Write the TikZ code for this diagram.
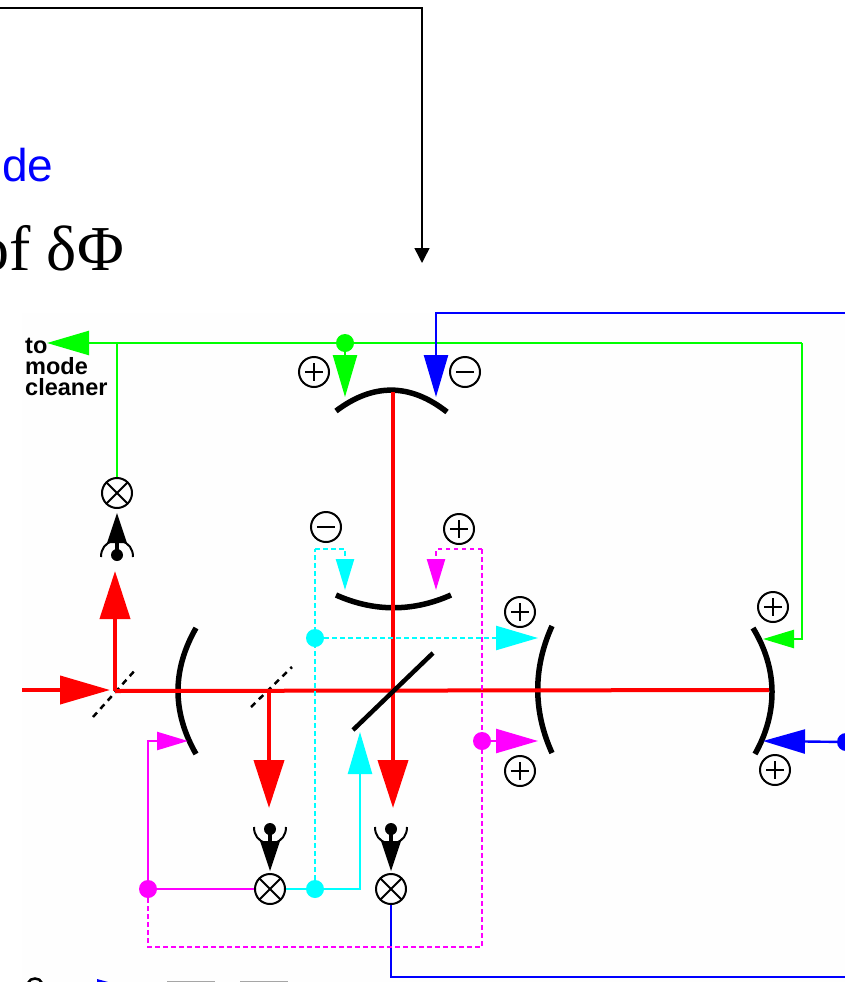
\documentclass[tikz,border=0pt]{standalone}
\usepackage{fontspec}
\setmainfont{Liberation Sans}
\newfontfamily\serfont{Liberation Serif}
\usetikzlibrary{arrows.meta}
\definecolor{puregreen}{RGB}{0,255,0}
\definecolor{purecyan}{RGB}{0,255,255}
\definecolor{puremagenta}{RGB}{255,0,255}
\definecolor{panelgray}{RGB}{254,254,254}
\tikzset{
	beam/.style = {red, line width = 4pt},
	mirror/.style = {black, line width = 5.5pt},
	sig/.style = {line width = 2.4pt},
	dsig/.style = {line width = 2.4pt, dash pattern = on 4.5pt off 3.5pt},
	bighead/.style = {-{Triangle[length = 48pt, width = 30pt]}},
	midhead/.style = {-{Triangle[length = 42pt, width = 24pt]}},
	smallhead/.style = {-{Triangle[length = 31pt, width = 18pt]}},
	dot/.style = {circle, fill, inner sep = 0pt, minimum size = 18pt},
	sign/.style = {circle, draw, line width = 2pt, inner sep = 0pt, minimum size = 30pt},
	plus/.style = {sign, path picture = {
		\draw[line width = 1.8pt] (path picture bounding box.center) +(-9,0) -- +(9,0);
		\draw[line width = 1.8pt] (path picture bounding box.center) +(0,-9) -- +(0,9);}},
	minus/.style = {sign, path picture = {
		\draw[line width = 1.8pt] (path picture bounding box.center) +(-9,0) -- +(9,0);}},
	mixer/.style = {sign, path picture = {
		\draw[line width = 2pt] (path picture bounding box.south west) -- (path picture bounding box.north east);
		\draw[line width = 2pt] (path picture bounding box.north west) -- (path picture bounding box.south east);}},
	detector/.pic = {
		\fill (0,0) circle (6);
		\draw[line width = 3.5pt] (0,0) -- (0,14);
		\fill (-10,12) -- (10,12) -- (0,42) -- cycle;
		\draw[line width = 2pt] (-16,-2) .. controls (-16,6) and (-12,12) .. (-4,14);
		\draw[line width = 2pt] (16,-2) .. controls (16,6) and (12,12) .. (4,14);
	}
}
\begin{document}
\begin{tikzpicture}[x=1pt, y=-1pt]
	\useasboundingbox (0,0) rectangle (845,982);
	\fill[panelgray] (22,313) rectangle (845,982);

	\coordinate (lineA) at (0,8);
	\coordinate (tipA) at (422,263);
	\draw[line width = 1.5pt, -{Triangle[length = 15pt, width = 15pt]}] (lineA) -| (tipA);
	\node[anchor = base west, blue, inner sep = 0pt, font = \fontsize{46}{46}\selectfont] (modeword) at (2,181) {de};
	\node[anchor = base east, font = \serfont\fontsize{64}{64}\selectfont, inner sep = 0pt] (phiword) at (124,270) {of δΦ};
	\node[anchor = north west, align = left, inner sep = 0pt, font = \bfseries\fontsize{23.5}{21}\selectfont] (cleaner) at (25,338) {to\\mode\\cleaner};

	\draw[mirror] (196,628) .. controls (172,670) and (172,712) .. (196,754);
	\draw[mirror] (552,626) .. controls (533,668) and (533,711) .. (552,753);
	\draw[mirror] (753,628) .. controls (778,669) and (778,713) .. (755,754);
	\draw[mirror] (336,411) .. controls (373,383) and (410,383) .. (447,412);
	\draw[mirror] (336,595) .. controls (374,612) and (413,612) .. (451,595);

	\draw[black, line width = 2.5pt, dash pattern = on 6pt off 5pt] (93,717) -- (137,668);
	\draw[black, line width = 2.5pt, dash pattern = on 6pt off 5pt] (251,707) -- (292,667);

	\draw[beam] (115,691) -- (769,690);
	\draw[beam, -{Triangle[length = 50pt, width = 28pt]}] (22,690) -- (110,690);
	\draw[beam, -{Triangle[length = 48pt, width = 30pt]}] (115,691) -- (115,571);
	\draw[beam, bighead] (269,691) -- (269,808);
	\draw[beam, bighead] (393,392) -- (393,808);
	\draw[black, line width = 4.5pt] (353,730) -- (433,653);

	\node[mixer] (mixA) at (117,493) {};
	\node[mixer] (mixB) at (270,889) {};
	\node[mixer] (mixC) at (391,889) {};
	\pic[yscale = -1] at (117,555) {detector};
	\pic at (270,829) {detector};
	\pic at (391,829) {detector};

	\node[plus] (signA) at (314,372) {};
	\node[minus] (signB) at (465,372) {};
	\node[minus] (signC) at (326,527) {};
	\node[plus] (signD) at (459,529) {};
	\node[plus] (signE) at (520,612) {};
	\node[plus] (signF) at (520,771) {};
	\node[plus] (signG) at (773,607) {};
	\node[plus] (signH) at (775,770) {};

	\coordinate (tipM) at (47,343);
	\coordinate (turnG) at (802,343);
	\coordinate (joinG) at (117,343);
	\coordinate (tipG) at (763,639);
	\coordinate (tipH) at (345,397);
	\node[dot, puregreen] (dotG) at (345,343) {};
	\draw[sig, puregreen, midhead] (turnG) -- (tipM);
	\draw[sig, puregreen] (mixA) -- (joinG);
	\draw[sig, puregreen, smallhead] (turnG) |- (tipG);
	\draw[sig, puregreen, midhead] (dotG) -- (tipH);

	\coordinate (startB) at (845,313);
	\coordinate (tipB) at (436,397);
	\coordinate (tipI) at (763,741);
	\coordinate (endB) at (845,977);
	\node[dot, blue] (dotB) at (846,742) {};
	\draw[sig, blue, midhead] (startB) -| (tipB);
	\draw[sig, blue, midhead] (dotB) -- (tipI);
	\draw[sig, blue] (mixC) |- (endB);

	\coordinate (cornC) at (315,549);
	\coordinate (tipC) at (345,590);
	\coordinate (tipD) at (538,638);
	\coordinate (tipE) at (360,732);
	\node[dot, purecyan] (dotC) at (315,638) {};
	\node[dot, purecyan] (dotD) at (315,889) {};
	\draw[sig, purecyan, midhead] (mixB) -| (tipE);
	\draw[dsig, purecyan] (dotD) -- (cornC);
	\draw[dsig, purecyan, smallhead] (cornC) -| (tipC);
	\draw[dsig, purecyan, midhead] (dotC) -- (tipD);

	\coordinate (cornE) at (148,947);
	\coordinate (cornF) at (482,947);
	\coordinate (cornH) at (482,549);
	\coordinate (tipF) at (436,590);
	\coordinate (tipJ) at (538,741);
	\coordinate (tipK) at (188,741);
	\node[dot, puremagenta] (dotE) at (148,889) {};
	\node[dot, puremagenta] (dotF) at (482,741) {};
	\draw[sig, puremagenta] (mixB) -- (dotE);
	\draw[sig, puremagenta, smallhead] (dotE) |- (tipK);
	\draw[dsig, puremagenta] (dotE) -- (cornE) -- (cornF) -- (cornH);
	\draw[dsig, puremagenta, smallhead] (cornH) -| (tipF);
	\draw[sig, puremagenta, midhead] (dotF) -- (tipJ);

	\draw[black, line width = 2.5pt] (28,983) .. controls (30,977) and (40,977) .. (42,983);
	\fill[blue] (97,979) -- (108,982) -- (97,982) -- cycle;
	\fill[gray!70] (167,981) rectangle (215,982);
	\fill[gray!70] (240,981) rectangle (288,982);
\end{tikzpicture}
\end{document}
